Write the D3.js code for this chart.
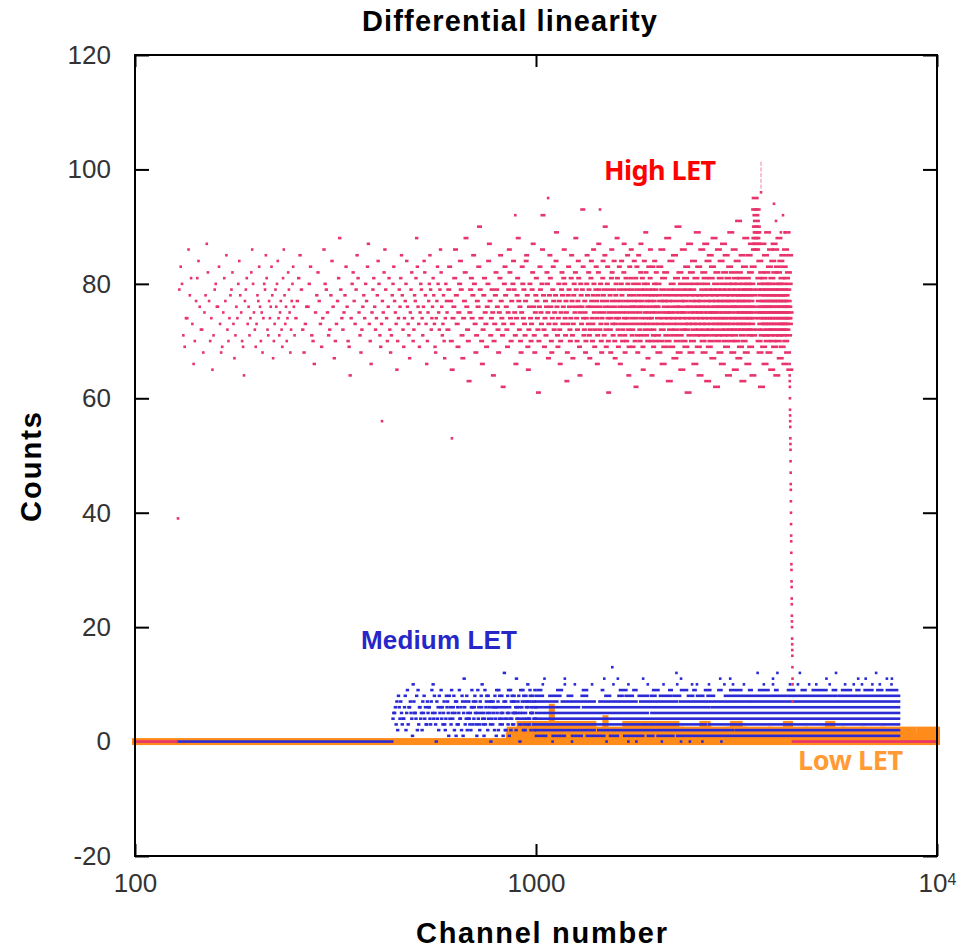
<!DOCTYPE html>
<html>
<head>
<meta charset="utf-8">
<script src="https://cdnjs.cloudflare.com/ajax/libs/d3/7.8.5/d3.min.js"></script>
<style>
  body { margin: 0; background: #fff; }
  svg { display: block; }
</style>
</head>
<body>
<div id="chart"></div>
<script>
// tick values
var yTicks = [-20, 0, 20, 40, 60, 80, 100, 120];
var xTicks = [100, 1000, 10000];

// High LET: counts per channel, two digits per value
var highStarts = [129, 252, 603, 2005];
var highSteps = [1, 2, 3, 5];
var highCounts = [
  "79838071697474867881 73667077818476727268 75788782777074657179 80767683736869758177 85727074787982736771 76748084787570696477 79817376717482868075 72697378778376707568 74807985817271777476 83786770737976808474 71757772698186787376 70748279756872778083 7671",
  "74778185797268737676 80837170667578827773 69748680797571727884 76677073778188797472 75788376706964748082 77737985817571687276 78748077838773706675 79817672747884807169 73777582867974707681 72687178808377757365 70747976818578726974 77808476737167757982 74707278778188837673 69758079747176848278 73667075778085797274 76817873696874778380 75727986827671737870 6774807775",
  "72798377706574768186 78736975808479716774 77828876727063757981 74788580736871777683 90797470667278817573 69768084877771747975 64707378827976726875 81857774716273808378 76726975798682747077 73808479757166747881 88777276706875838074 79737177848578696572 76807470737982877671 68757881777472617076 83797573808692787269 74777176828075677378 85817670687479837772 75737884897671697480 77726670757982787376 81868074717775636873 78837976727074818577 71677378807675828879 74707277848176696475 80787376799383747172 77756870748085787673 82797167727681847774 70737886807569727679 83777466717882877975 72768073706874778184 78757179859076726973 77808374706175797678 72687481868277737175 79847670677378807477 88817572697479837671 66737780847875707279 76828774716873778175 70747985807672646978 83777375818679747176 72697680788477737075 81627479837671687780 85787375727076828779 74717781766965737880 84797572748982767173 77807067757883797472 76818677737074786475 79837671697277808478 737570798276",
  "76718074687883737770 75867279668174776976 82737871758870777463 79757284766980737874 71778567757972817670 74907378687682717775 80657974728675707873 77816976837274796180 73768771787568827477 70797384767280667578 81747177897376698375 72786480747771867673 79707582687874817287 76738071776384757974 69787285767081737775 83677974718875787276 80737762827479707686 71757873688177748472 76796680757387717774 82707678728569797573 74817764807671837872 75897377707974826876 80727686747178658177 73797570847672807491 67788273777569817672 79748571786377738075 70837674797288756878 77738176668074797285 75717874826977768773 80727579648376717874 86938895908792899186 88939087897279758170 77748468768073787562 82767179748772776981 75738076667885747179 73778270758976728074 78687683737971778675 72807465817678738470 77757972877469827678 71867377758064797483 76727870827588737771 80746779768472787573 81697774857671807378 75837279667774867076 78738175728976687974 77827176748073856575"
];
// isolated High LET dots [channel, count]
var highPoints = [[128, 39], [413, 56], [617, 53], [1072, 95], [1444, 93], [888, 92],
  [3922, 94], [4130, 92], [3967, 91], [4080, 89], [4170, 89], [3640, 96]];
var highFaint = [[3640, 97], [3640, 98], [3640, 99], [3640, 100], [3640, 101]];
// falling edge at the end of the High LET range [channel, count]
var highEdge = [[4290, 66], [4292, 64], [4294, 63], [4296, 62], [4298, 60], [4300, 58], [4302, 57],
  [4304, 56], [4306, 55], [4308, 53], [4310, 52], [4312, 51], [4314, 49], [4316, 47], [4318, 45],
  [4320, 44], [4322, 42], [4324, 40], [4326, 38], [4328, 36], [4330, 35], [4332, 33], [4334, 31],
  [4336, 30], [4338, 28], [4340, 27], [4342, 25], [4344, 24], [4346, 22], [4348, 21], [4350, 20],
  [4352, 18], [4354, 17], [4356, 16], [4358, 15], [4360, 13], [4362, 11], [4364, 10], [4366, 7]];
// runs of dots at one count [count, first channel, last channel]
var highRuns = [[0, 100, 127], [0, 4372, 10000]];

// Medium LET: counts per channel from 440, step 2 (hex digit per value)
var mediumStart = 440, mediumStep = 2;
var mediumCounts = "4556372864 7534468259 3667541a75 5482936645 2758463375 6643795a48 5307462856 9463573248 6751846395 4682571736 3594462871 5b63748254 7435269637 4685731594 6327586a43 5149367852 8467530746 3756284619 5672948365 4835167c42 7264583951 6492748357 3857562b46 5748360593 4675928437 2586473a64 7349852675 5863472946";
var mediumRuns = [
  [0, 128, 438],
  [1, 1000, 1060], [1, 1100, 1180], [1, 1230, 1300], [1, 1340, 1480], [1, 1530, 1600], [1, 1660, 1850], [1, 1900, 1960], [1, 2010, 2200], [1, 2250, 8040],
  [2, 1000, 1400], [2, 1430, 3100], [2, 3150, 8040],
  [3, 1000, 2650], [3, 2700, 8040],
  [4, 1000, 8040],
  [5, 1000, 1900], [5, 1940, 8040],
  [6, 1000, 1280], [6, 1310, 2700], [6, 2740, 8040],
  [7, 1000, 1130], [7, 1160, 1400], [7, 1440, 1780], [7, 1820, 2250], [7, 2290, 3400], [7, 3440, 8040],
  [8, 1000, 1040], [8, 1080, 1150], [8, 1200, 1230], [8, 1300, 1340], [8, 1490, 1530], [8, 1606, 1644], [8, 1673, 1743],
  [8, 1804, 1903], [8, 1937, 1986], [8, 2038, 2178], [8, 2212, 2287], [8, 2393, 2465], [8, 2521, 2613], [8, 2678, 2778],
  [8, 2960, 4200], [8, 4260, 5600], [8, 5680, 8040],
  [9, 1010, 1030], [9, 1130, 1160], [9, 1310, 1340], [9, 1460, 1470], [9, 1620, 1680], [9, 1750, 1780], [9, 1960, 2020],
  [9, 2150, 2180], [9, 2300, 2380], [9, 2470, 2500], [9, 2640, 2720], [9, 2850, 2900], [9, 3050, 3250], [9, 3400, 3450],
  [9, 3600, 3800], [9, 3950, 4000], [9, 4250, 4400], [9, 4600, 4700], [9, 4900, 5300], [9, 5500, 5600], [9, 5800, 6100],
  [9, 6300, 6400], [9, 6600, 6900], [9, 7100, 7300], [9, 7500, 7950]
];
var mediumPoints = [
  [1100, 0], [1230, 0], [1500, 0], [1700, 0], [1780, 0], [2060, 0], [2300, 0], [2420, 0], [2600, 0], [2900, 0],
  [1040, 10], [1180, 10], [1250, 10], [1380, 10], [1560, 10], [1700, 10], [1900, 10], [2080, 10], [2250, 10], [2450, 10],
  [2520, 10], [2700, 10], [2950, 10], [3100, 10], [3300, 10], [3700, 10], [3900, 10], [4300, 10], [4500, 10], [4800, 10],
  [5000, 10], [5400, 10], [5900, 10], [6200, 10], [6500, 10], [6900, 10], [7200, 10], [7700, 10],
  [1050, 11], [1180, 11], [1480, 11], [1600, 11], [1850, 11], [2300, 11], [2880, 11], [3050, 11], [3900, 11], [5300, 11],
  [6360, 11], [6640, 11], [7500, 11], [7720, 11],
  [2240, 12], [3570, 12], [4000, 12], [4550, 12], [5600, 12], [7050, 12], [1550, 13]
];

// Low LET: runs [count, first channel, last channel] and single dots
var lowRuns = [
  [0, 100, 10000],
  [1, 855, 10000],
  [2, 860, 1020], [2, 1040, 1300], [2, 1320, 1900], [2, 1930, 2300], [2, 2330, 2700], [2, 2750, 3000], [2, 3030, 3300],
  [2, 3340, 3800], [2, 3850, 4700], [2, 4750, 5200], [2, 5260, 5800], [2, 5860, 6500], [2, 6560, 7300], [2, 7360, 8750],
  [2, 9050, 10000],
  [3, 910, 1000], [3, 1030, 1060], [3, 1120, 1390], [3, 1670, 1790], [3, 1850, 1920], [3, 1970, 2040], [3, 2100, 2240],
  [3, 2600, 2680], [3, 3100, 3220], [3, 4200, 4300], [3, 5350, 5480]
];
var lowPoints = [[1095, 3], [1095, 4], [1095, 5], [1095, 6], [1490, 3], [1490, 4]];

// set the dimensions and margins of the graph
var margin = {top: 55, right: 22, bottom: 93, left: 135},
  width = 959 - margin.left - margin.right,
  height = 949 - margin.top - margin.bottom;

var svgRoot = d3.select("#chart")
  .append("svg")
    .attr("width", 959)
    .attr("height", 949);
var svg = svgRoot.append("g")
    .attr("transform", "translate(" + margin.left + "," + margin.top + ")");

var x = d3.scaleLog().domain([100, 10000]).range([0, width]);
var y = d3.scaleLinear().domain([-20, 120]).range([height, 0]);

var tickFont = "'Liberation Sans', Arial, Helvetica, sans-serif";

// axes, ticks pointing inward
function styleAxis(g) {
  g.select(".domain").remove();
  g.selectAll(".tick line").attr("stroke", "#000").attr("stroke-width", 2);
  g.selectAll(".tick text").attr("fill", "#333").style("font-size", "26px").style("font-family", tickFont);
}
svg.append("g")
  .call(d3.axisLeft(y).tickValues(yTicks).tickSizeInner(-14).tickSizeOuter(0).tickPadding(24)
    .tickFormat(function(d) { return String(d); }))
  .call(styleAxis);
svg.append("g")
  .attr("transform", "translate(" + width + ",0)")
  .call(d3.axisRight(y).tickValues(yTicks).tickSizeInner(-14).tickSizeOuter(0).tickFormat(""))
  .call(styleAxis);
var xAxis = svg.append("g")
  .attr("transform", "translate(0," + height + ")")
  .call(d3.axisBottom(x).tickValues(xTicks).tickSizeInner(-12).tickSizeOuter(0).tickPadding(18)
    .tickFormat(function(d) { return d === 10000 ? "" : String(d); }))
  .call(styleAxis);
xAxis.selectAll(".tick text").each(function(d) {
  if (d === 10000) {
    var t = d3.select(this);
    t.append("tspan").text("10");
    t.append("tspan").attr("dy", "-0.45em").style("font-size", "16px").text("4");
  }
});
svg.append("g")
  .call(d3.axisTop(x).tickValues(xTicks).tickSizeInner(-12).tickSizeOuter(0).tickFormat(""))
  .call(styleAxis);

// markers
function drawDots(data, color, w, h, op) {
  svg.append("g").selectAll(null)
    .data(data)
    .enter().append("rect")
      .attr("x", d => x(d[0]) - w / 2)
      .attr("y", d => y(d[1]) - h / 2)
      .attr("width", w)
      .attr("height", h)
      .attr("fill", color)
      .attr("opacity", op || 1);
}
function drawRuns(data, color, w, h) {
  svg.append("g").selectAll(null)
    .data(data)
    .enter().append("rect")
      .attr("x", d => x(d[1]) - w / 2)
      .attr("y", d => y(d[0]) - h / 2)
      .attr("width", d => x(d[2]) - x(d[1]) + w)
      .attr("height", h)
      .attr("fill", color);
}

var lowColor = "#ff8c1a", mediumColor = "#2b2bd6", highColor = "#e8336b";

// Low LET
drawRuns(lowRuns, lowColor, 6, 7);
drawDots(lowPoints, lowColor, 6, 7);

// Medium LET
var mediumData = mediumCounts.replace(/\s/g, "").split("").map(function(c, i) {
  return [mediumStart + i * mediumStep, parseInt(c, 16)];
});
drawRuns(mediumRuns, mediumColor, 2.6, 2.6);
drawDots(mediumData, mediumColor, 3.4, 2.6);
drawDots(mediumPoints, mediumColor, 2.6, 2.6);

// High LET: one sample stands for several channels, so wider marks where sampled sparsely
var highWidths = [2.6, 3.4, 5, 7];
highCounts.forEach(function(s, k) {
  var vals = [];
  s.split(/\s+/).forEach(function(grp) { (grp.match(/\d\d/g) || []).forEach(function(v) { vals.push(+v); }); });
  var data = vals.map(function(v, i) { return [highStarts[k] + i * highSteps[k], v]; });
  drawDots(data, highColor, highWidths[k], 2.6);
});
drawRuns(highRuns, highColor, 2.6, 2.6);
drawDots(highPoints, highColor, 2.6, 2.6);
drawDots(highEdge, highColor, 2.6, 2.6);
drawDots(highFaint, highColor, 1.2, 4, 0.5);

// frame
svg.append("rect")
  .attr("width", width)
  .attr("height", height)
  .attr("fill", "none")
  .attr("stroke", "#000")
  .attr("stroke-width", 2);

// titles
var boldFont = "'Liberation Sans', Arial, Helvetica, sans-serif";
svgRoot.append("text")
  .attr("x", 362).attr("y", 31)
  .attr("textLength", 295)
  .style("font-family", boldFont).style("font-weight", "bold").style("font-size", "29px")
  .text("Differential linearity");
svgRoot.append("text")
  .attr("x", 416).attr("y", 943)
  .attr("textLength", 251)
  .style("font-family", boldFont).style("font-weight", "bold").style("font-size", "29px")
  .text("Channel number");
svgRoot.append("text")
  .attr("transform", "translate(41,522) rotate(-90)")
  .attr("textLength", 110)
  .style("font-family", boldFont).style("font-weight", "bold").style("font-size", "29px")
  .text("Counts");

// series labels
svgRoot.append("text")
  .attr("x", 604).attr("y", 180)
  .attr("textLength", 112)
  .attr("fill", "#ff0000")
  .style("font-family", "'Noto Sans', sans-serif").style("font-weight", "bold").style("font-size", "27px")
  .text("High LET");
svgRoot.append("text")
  .attr("x", 361).attr("y", 649)
  .attr("textLength", 156)
  .attr("fill", "#2626c9")
  .style("font-family", boldFont).style("font-weight", "bold").style("font-size", "26px")
  .text("Medium LET");
svgRoot.append("text")
  .attr("x", 798).attr("y", 770)
  .attr("textLength", 105)
  .attr("fill", "#ff9a35")
  .style("font-family", "'Noto Sans', sans-serif").style("font-weight", "bold").style("font-size", "27px")
  .text("Low LET");
</script>
</body>
</html>
